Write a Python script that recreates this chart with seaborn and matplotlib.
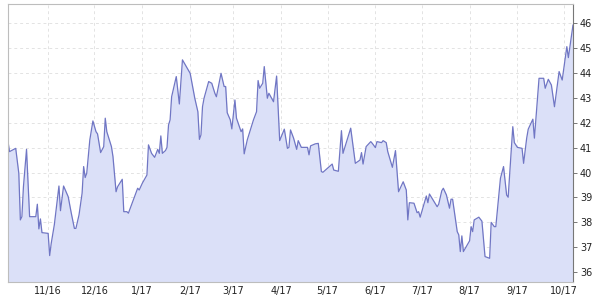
import matplotlib
matplotlib.use("Agg")
import matplotlib.pyplot as plt
import matplotlib.dates as mdates
import seaborn as sns
import pandas as pd

dates = [
    "2016-10-06", "2016-10-07", "2016-10-11", "2016-10-13", "2016-10-14", "2016-10-15",
    "2016-10-16", "2016-10-18", "2016-10-20", "2016-10-24", "2016-10-25", "2016-10-26",
    "2016-10-27", "2016-10-28", "2016-11-01", "2016-11-02", "2016-11-03", "2016-11-05",
    "2016-11-08", "2016-11-09", "2016-11-11", "2016-11-14", "2016-11-16", "2016-11-18",
    "2016-11-19", "2016-11-21", "2016-11-23", "2016-11-24", "2016-11-25", "2016-11-26",
    "2016-11-28", "2016-11-30", "2016-12-02", "2016-12-03", "2016-12-05", "2016-12-07",
    "2016-12-08", "2016-12-09", "2016-12-12", "2016-12-13", "2016-12-15", "2016-12-16",
    "2016-12-19", "2016-12-20", "2016-12-22", "2016-12-23", "2016-12-29", "2016-12-30",
    "2017-01-01", "2017-01-04", "2017-01-05", "2017-01-07", "2017-01-09", "2017-01-11",
    "2017-01-12", "2017-01-13", "2017-01-14", "2017-01-16", "2017-01-17", "2017-01-18",
    "2017-01-19", "2017-01-20", "2017-01-23", "2017-01-25", "2017-01-27", "2017-02-01",
    "2017-02-04", "2017-02-06", "2017-02-07", "2017-02-08", "2017-02-09", "2017-02-10",
    "2017-02-13", "2017-02-15", "2017-02-17", "2017-02-18", "2017-02-21", "2017-02-23",
    "2017-02-24", "2017-02-25", "2017-02-27", "2017-02-28", "2017-03-02", "2017-03-03",
    "2017-03-06", "2017-03-07", "2017-03-08", "2017-03-10", "2017-03-14", "2017-03-16",
    "2017-03-17", "2017-03-18", "2017-03-20", "2017-03-21", "2017-03-23", "2017-03-24",
    "2017-03-27", "2017-03-29", "2017-03-31", "2017-04-03", "2017-04-05", "2017-04-06",
    "2017-04-07", "2017-04-09", "2017-04-11", "2017-04-12", "2017-04-14", "2017-04-18",
    "2017-04-19", "2017-04-20", "2017-04-23", "2017-04-25", "2017-04-27", "2017-04-28",
    "2017-05-04", "2017-05-05", "2017-05-08", "2017-05-10", "2017-05-11", "2017-05-14",
    "2017-05-16", "2017-05-19", "2017-05-22", "2017-05-23", "2017-05-24", "2017-05-26",
    "2017-05-29", "2017-05-30", "2017-06-01", "2017-06-02", "2017-06-05", "2017-06-06",
    "2017-06-08", "2017-06-09", "2017-06-12", "2017-06-14", "2017-06-16", "2017-06-19",
    "2017-06-21", "2017-06-22", "2017-06-23", "2017-06-26", "2017-06-28", "2017-06-29",
    "2017-06-30", "2017-07-04", "2017-07-05", "2017-07-06", "2017-07-11", "2017-07-12",
    "2017-07-14", "2017-07-15", "2017-07-17", "2017-07-19", "2017-07-20", "2017-07-21",
    "2017-07-24", "2017-07-25", "2017-07-26", "2017-07-27", "2017-07-28", "2017-08-01",
    "2017-08-02", "2017-08-03", "2017-08-04", "2017-08-07", "2017-08-09", "2017-08-11",
    "2017-08-14", "2017-08-15", "2017-08-17", "2017-08-18", "2017-08-21", "2017-08-23",
    "2017-08-25", "2017-08-26", "2017-08-29", "2017-08-30", "2017-09-01", "2017-09-04",
    "2017-09-05", "2017-09-07", "2017-09-08", "2017-09-11", "2017-09-12", "2017-09-15",
    "2017-09-18", "2017-09-19", "2017-09-21", "2017-09-23", "2017-09-25", "2017-09-28",
    "2017-09-30", "2017-10-03", "2017-10-04", "2017-10-07",
]

prices = [
    41.24, 40.84, 40.97, 39.97, 38.10, 38.23,
    39.43, 40.93, 38.23, 38.23, 38.73, 37.74,
    38.14, 37.59, 37.56, 36.67, 37.16, 37.90,
    39.46, 38.47, 39.46, 39.03, 38.37, 37.76,
    37.76, 38.30, 39.17, 40.24, 39.80, 39.97,
    41.31, 42.07, 41.64, 41.55, 40.80, 41.04,
    42.18, 41.64, 41.04, 40.64, 39.23, 39.43,
    39.73, 38.43, 38.43, 38.37, 39.37, 39.30,
    39.57, 39.90, 41.11, 40.77, 40.61, 40.93,
    40.77, 41.47, 40.77, 40.88, 41.01, 41.91,
    42.11, 43.04, 43.85, 42.75, 44.52, 43.98,
    42.98, 42.44, 41.33, 41.51, 42.64, 42.98,
    43.65, 43.58, 43.18, 43.04, 43.98, 43.45,
    43.45, 42.40, 42.11, 41.75, 42.91, 42.18,
    41.64, 41.75, 40.75, 41.31, 42.11, 42.44,
    43.69, 43.38, 43.58, 44.25, 42.98, 43.18,
    42.84, 43.87, 41.28, 41.74, 40.97, 41.01,
    41.71, 41.38, 40.93, 41.28, 41.01, 41.01,
    40.71, 41.07, 41.15, 41.17, 40.04, 40.01,
    40.34, 40.10, 40.05, 41.68, 40.77, 41.38,
    41.78, 40.37, 40.50, 40.80, 40.34, 41.04,
    41.24, 41.17, 41.00, 41.24, 41.20, 41.28,
    41.20, 40.84, 40.21, 40.88, 39.23, 39.63,
    39.30, 38.10, 38.79, 38.77, 38.39, 38.43,
    38.21, 39.06, 38.79, 39.14, 38.63, 38.73,
    39.27, 39.37, 39.10, 38.57, 38.93, 38.93,
    37.63, 37.50, 36.83, 37.46, 36.83, 37.26,
    37.83, 37.63, 38.10, 38.21, 38.05, 36.63,
    36.56, 38.00, 37.83, 37.83, 39.77, 40.24,
    39.10, 39.01, 41.84, 41.20, 41.01, 40.97,
    40.37, 41.38, 41.74, 42.14, 41.38, 43.78,
    43.78, 43.38, 43.74, 43.51, 42.64, 44.05,
    43.71, 45.05, 44.61, 45.92,
]

y_ticks = [36, 37, 38, 39, 40, 41, 42, 43, 44, 45, 46]
x_tick_dates = ["2016-11-01", "2016-12-01", "2017-01-01", "2017-02-01", "2017-03-01",
                "2017-04-01", "2017-05-01", "2017-06-01", "2017-07-01", "2017-08-01",
                "2017-09-01", "2017-10-01"]
x_tick_labels = ["11/16", "12/16", "1/17", "2/17", "3/17", "4/17", "5/17", "6/17",
                 "7/17", "8/17", "9/17", "10/17"]

df = pd.DataFrame({"date": pd.to_datetime(dates), "price": prices})

sns.set_style("white")
plt.rcParams["font.family"] = ["DejaVu Sans"]

fig = plt.figure(figsize=(6, 3), dpi=100)
ax = fig.add_axes([8 / 600, 18 / 300, 565 / 600, 278 / 300])

ymin, ymax = 35.61, 46.76
line_color = "#7076c4"
fill_color = "#dbe0f8"

ax.fill_between(df["date"], df["price"], ymin, color=fill_color, linewidth=0, zorder=1)
sns.lineplot(data=df, x="date", y="price", ax=ax, color=line_color, linewidth=0.9, zorder=2)

ax.set_xlim(df["date"].iloc[0], df["date"].iloc[-1])
ax.set_ylim(ymin, ymax)

ax.yaxis.tick_right()
ax.set_yticks(y_ticks)
ax.set_yticklabels([str(t) for t in y_ticks])
ax.set_xticks(pd.to_datetime(x_tick_dates))
ax.set_xticklabels(x_tick_labels)

ax.grid(True, color="#e3e3e3", linestyle=(0, (3, 3)), linewidth=0.7)
ax.set_axisbelow(True)
ax.set_xlabel("")
ax.set_ylabel("")

for side in ["left", "top", "bottom"]:
    ax.spines[side].set_color("#bdbdbd")
    ax.spines[side].set_linewidth(0.8)
ax.spines["right"].set_color("#777777")
ax.spines["right"].set_linewidth(0.8)

ax.tick_params(axis="y", which="both", right=True, left=False, length=3, width=0.7,
               color="#777777", labelsize=7, labelcolor="#222222", pad=2)
ax.tick_params(axis="x", which="both", bottom=False, length=0, labelsize=7,
               labelcolor="#222222", pad=3)

fig.savefig("out.png", dpi=100)
